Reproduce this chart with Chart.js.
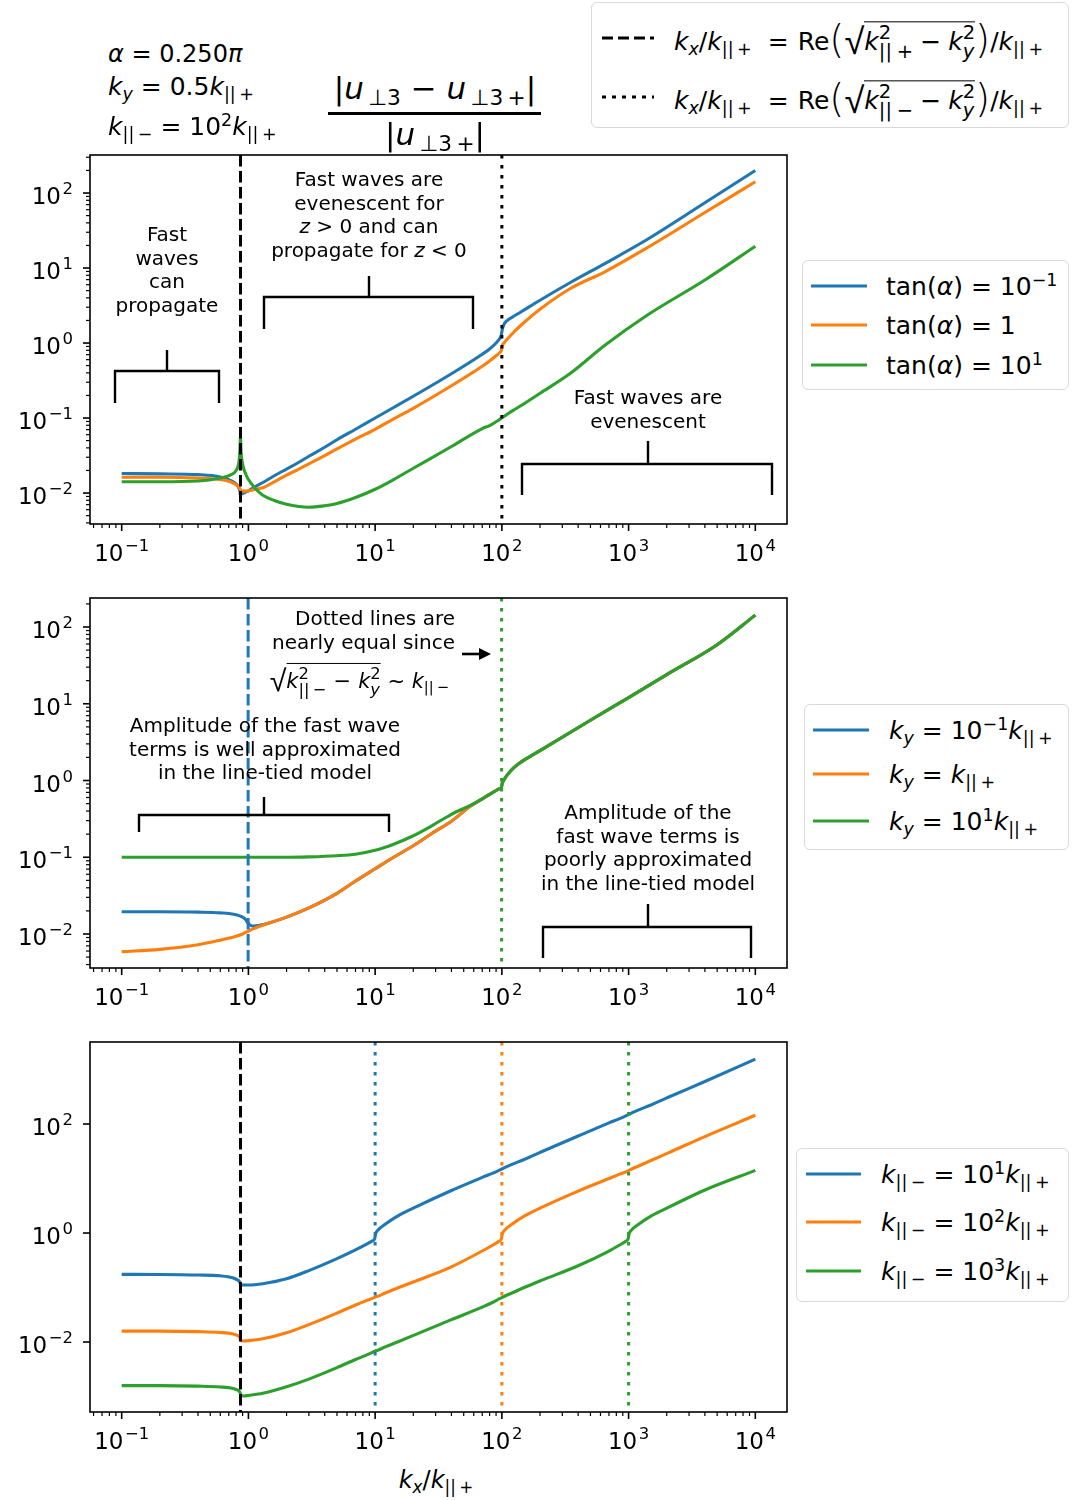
<!DOCTYPE html>
<html>
<head>
<meta charset="utf-8">
<script src="https://cdn.jsdelivr.net/npm/chart.js@4.4.0/dist/chart.umd.min.js"></script>
<style>
body { margin: 0; background: #fff; }
#page { position: relative; width: 1073px; height: 1500px; overflow: hidden; font-family: 'DejaVu Sans', sans-serif; color: #000; }
.cv { position: absolute; left: 0; }
.t { position: absolute; white-space: nowrap; line-height: 1; }
.c { transform: translate(-50%, -50%); text-align: center; }
.l { transform: translateY(-50%); }
.r { transform: translate(-100%, -50%); text-align: right; }
i { font-style: italic; }
.sb { font-size: 0.7em; position: relative; top: 0.28em; }
.sp { font-size: 0.7em; position: relative; top: -0.5em; }
.ss { display: inline-block; font-size: 0.78em; vertical-align: -0.4em; line-height: 0.95; text-align: left; }
.ss span { display: block; }
.bp { font-size: 1.55em; position: relative; top: 0.08em; font-weight: 200; }
.rad { font-size: 1.45em; position: relative; top: 0.1em; font-weight: 200; }
.ov { border-top: 1.5px solid #000; padding-top: 5px; }
.op { margin: 0 7px; }
.eq { margin: 0 9px 0 16px; }
.leg { position: absolute; border: 1.5px solid #d9d9d9; border-radius: 6px; background: #fff; box-sizing: border-box; }
.row { position: absolute; white-space: nowrap; transform: translateY(-50%); line-height: 1; }
.smp { position: absolute; height: 3px; transform: translateY(-50%); }
.ann { font-size: 20px; line-height: 23.5px; }
</style>
</head>
<body>
<div id="page">
  <div class="cv" style="top:140px"><canvas id="c1" width="800" height="430"></canvas></div>
  <div class="cv" style="top:585px"><canvas id="c2" width="800" height="430"></canvas></div>
  <div class="cv" style="top:1030px"><canvas id="c3" width="800" height="430"></canvas></div>

  <!-- header -->
  <div class="t l" style="left:108px;top:54px;font-size:24px"><i>α</i> = 0.250<i>π</i></div>
  <div class="t l" style="left:108px;top:86px;font-size:25px"><i>k</i><span class="sb"><i>y</i></span> = 0.5<i>k</i><span class="sb">||&#8201;+</span></div>
  <div class="t l" style="left:108px;top:126px;font-size:25px"><i>k</i><span class="sb">||&#8201;−</span> = 10<span class="sp">2</span><i>k</i><span class="sb">||&#8201;+</span></div>
  <div class="t c" style="left:435px;top:88px;font-size:31px">|<i>u</i><span class="sb">&#8201;⊥3</span> − <i>u</i><span class="sb">&#8201;⊥3&#8201;+</span>|</div>
  <div style="position:absolute;left:328px;top:112px;width:213px;height:2.5px;background:#000"></div>
  <div class="t c" style="left:435px;top:134px;font-size:31px">|<i>u</i><span class="sb">&#8201;⊥3&#8201;+</span>|</div>

  <div class="leg" style="left:591px;top:2px;width:478px;height:126px">
    <div class="smp" style="left:10px;top:35px;width:52px;background:repeating-linear-gradient(to right,#000 0 11.5px,transparent 11.5px 16px)"></div>
    <div class="row" style="left:82px;top:37px;font-size:25px"><i>k</i><span class="sb"><i>x</i></span>/<i>k</i><span class="sb">||&#8201;+</span><span class="eq">=</span>Re<span class="bp">(</span><span class="rad">√</span><span class="ov"><i>k</i><span class="ss"><span>2</span><span>||&#8197;+</span></span><span class="op">−</span><i>k</i><span class="ss"><span>2</span><span><i>y</i></span></span></span><span class="bp">)</span>/<i>k</i><span class="sb">||&#8201;+</span></div>
    <div class="smp" style="left:10px;top:94px;width:52px;background:repeating-linear-gradient(to right,#000 0 3.5px,transparent 3.5px 10px)"></div>
    <div class="row" style="left:82px;top:96px;font-size:25px"><i>k</i><span class="sb"><i>x</i></span>/<i>k</i><span class="sb">||&#8201;+</span><span class="eq">=</span>Re<span class="bp">(</span><span class="rad">√</span><span class="ov"><i>k</i><span class="ss"><span>2</span><span>||&#8197;−</span></span><span class="op">−</span><i>k</i><span class="ss"><span>2</span><span><i>y</i></span></span></span><span class="bp">)</span>/<i>k</i><span class="sb">||&#8201;+</span></div>
  </div>

  <!-- legends -->
  <div class="leg" style="left:802px;top:260px;width:267px;height:130px">
    <div class="smp" style="left:8px;top:25px;width:56px;background:#1f77b4"></div>
    <div class="row" style="left:83px;top:25px;font-size:25px">tan(<i>α</i>) = 10<span class="sp">−1</span></div>
    <div class="smp" style="left:8px;top:64px;width:56px;background:#ff7f0e"></div>
    <div class="row" style="left:83px;top:64px;font-size:25px">tan(<i>α</i>) = 1</div>
    <div class="smp" style="left:8px;top:104px;width:56px;background:#2ca02c"></div>
    <div class="row" style="left:83px;top:104px;font-size:25px">tan(<i>α</i>) = 10<span class="sp">1</span></div>
  </div>
  <div class="leg" style="left:804px;top:704px;width:265px;height:146px">
    <div class="smp" style="left:8px;top:25px;width:56px;background:#1f77b4"></div>
    <div class="row" style="left:84px;top:25px;font-size:25px"><i>k</i><span class="sb"><i>y</i></span> = 10<span class="sp">−1</span><i>k</i><span class="sb">||&#8201;+</span></div>
    <div class="smp" style="left:8px;top:69px;width:56px;background:#ff7f0e"></div>
    <div class="row" style="left:84px;top:69px;font-size:25px"><i>k</i><span class="sb"><i>y</i></span> = <i>k</i><span class="sb">||&#8201;+</span></div>
    <div class="smp" style="left:8px;top:116px;width:56px;background:#2ca02c"></div>
    <div class="row" style="left:84px;top:116px;font-size:25px"><i>k</i><span class="sb"><i>y</i></span> = 10<span class="sp">1</span><i>k</i><span class="sb">||&#8201;+</span></div>
  </div>
  <div class="leg" style="left:796px;top:1148px;width:273px;height:154px">
    <div class="smp" style="left:9px;top:25px;width:55px;background:#1f77b4"></div>
    <div class="row" style="left:84px;top:25px;font-size:25px"><i>k</i><span class="sb">||&#8201;−</span> = 10<span class="sp">1</span><i>k</i><span class="sb">||&#8201;+</span></div>
    <div class="smp" style="left:9px;top:73px;width:55px;background:#ff7f0e"></div>
    <div class="row" style="left:84px;top:73px;font-size:25px"><i>k</i><span class="sb">||&#8201;−</span> = 10<span class="sp">2</span><i>k</i><span class="sb">||&#8201;+</span></div>
    <div class="smp" style="left:9px;top:122px;width:55px;background:#2ca02c"></div>
    <div class="row" style="left:84px;top:122px;font-size:25px"><i>k</i><span class="sb">||&#8201;−</span> = 10<span class="sp">3</span><i>k</i><span class="sb">||&#8201;+</span></div>
  </div>

  <!-- annotations -->
  <div class="t c ann" style="left:167px;top:270px">Fast<br>waves<br>can<br>propagate</div>
  <div class="t c ann" style="left:369px;top:215px">Fast waves are<br>evenescent for<br><i>z</i> &gt; 0 and can<br>propagate for <i>z</i> &lt; 0</div>
  <div class="t c ann" style="left:648px;top:409px">Fast waves are<br>evenescent</div>
  <div class="t r ann" style="left:455px;top:630px">Dotted lines are<br>nearly equal since</div>
  <div class="t r" style="left:449px;top:680px;font-size:21px"><span class="rad">√</span><span class="ov"><i>k</i><span class="ss"><span>2</span><span>||&#8201;−</span></span><span class="op">−</span><i>k</i><span class="ss"><span>2</span><span><i>y</i></span></span></span> ~ <i>k</i><span class="sb">||&#8201;−</span></div>
  <div class="t c ann" style="left:265px;top:749px">Amplitude of the fast wave<br>terms is well approximated<br>in the line-tied model</div>
  <div class="t c ann" style="left:648px;top:848px">Amplitude of the<br>fast wave terms is<br>poorly approximated<br>in the line-tied model</div>

  <div class="t c" style="left:436px;top:1480px;font-size:24px"><i>k</i><span class="sb"><i>x</i></span>/<i>k</i><span class="sb">||&#8201;+</span></div>
</div>

<script>
// values as log10 of |u⊥3 − u⊥3+| / |u⊥3+|

// top panel: tan(alpha) = 0.1, 1, 10
const kx1 = [0.1, 0.2, 0.4, 0.6, 0.72, 0.8, 0.84, 0.855, 0.866, 0.875, 0.89, 0.92, 0.96, 1.0, 1.15, 1.3, 1.6, 2, 2.5, 3, 4, 5, 7, 10, 14, 20, 40, 70, 80, 90, 96, 99, 101, 104, 110, 125, 140, 200, 350, 650, 1400, 4000, 10000];
const p1Blue = [-1.74, -1.745, -1.755, -1.785, -1.83, -1.88, -1.93, -1.97, -2.03, -2.02, -2.01, -2.0, -1.985, -1.97, -1.91, -1.86, -1.77, -1.68, -1.59, -1.51, -1.39, -1.29, -1.15, -1.0, -0.86, -0.71, -0.41, -0.15, -0.08, 0.0, 0.06, 0.11, 0.19, 0.25, 0.3, 0.36, 0.41, 0.57, 0.81, 1.06, 1.38, 1.87, 2.3];
const p1Orange = [-1.79, -1.79, -1.8, -1.82, -1.85, -1.89, -1.92, -1.94, -1.96, -1.97, -1.975, -1.975, -1.975, -1.97, -1.95, -1.93, -1.85, -1.76, -1.68, -1.61, -1.5, -1.41, -1.28, -1.15, -1.01, -0.87, -0.57, -0.31, -0.24, -0.17, -0.13, -0.1, -0.03, 0.0, 0.05, 0.15, 0.23, 0.45, 0.73, 0.95, 1.27, 1.74, 2.15];
const p1Green = [-1.85, -1.85, -1.84, -1.8, -1.76, -1.7, -1.6, -1.47, -1.25, -1.45, -1.57, -1.68, -1.76, -1.82, -1.95, -2.03, -2.1, -2.15, -2.18, -2.19, -2.17, -2.14, -2.06, -1.95, -1.82, -1.67, -1.38, -1.14, -1.1, -1.05, -1.02, -1.0, -0.99, -0.98, -0.95, -0.89, -0.84, -0.67, -0.4, -0.03, 0.37, 0.84, 1.29];
const p1Lines = [0.866, 100];

// middle panel: ky = 0.1, 1, 10 k||+
const kx2 = [0.1, 0.2, 0.4, 0.6, 0.8, 0.9, 0.95, 0.995, 1.05, 1.1, 1.2, 1.5, 2, 3, 5, 7, 10, 14, 20, 28, 40, 57, 70, 80, 90, 96, 99, 101, 104, 110, 125, 140, 200, 500, 1000, 2000, 5000, 10000];
const p2Blue = [-1.71, -1.71, -1.715, -1.725, -1.75, -1.78, -1.81, -1.86, -1.89, -1.895, -1.89, -1.85, -1.78, -1.66, -1.47, -1.31, -1.15, -1.0, -0.85, -0.69, -0.53, -0.33, -0.24, -0.18, -0.13, -0.105, -0.09, -0.03, 0.01, 0.07, 0.17, 0.235, 0.39, 0.785, 1.08, 1.38, 1.77, 2.155];
const p2Orange = [-2.23, -2.2, -2.14, -2.08, -2.03, -2.0, -1.98, -1.965, -1.945, -1.93, -1.905, -1.85, -1.78, -1.66, -1.47, -1.31, -1.15, -1.0, -0.85, -0.69, -0.53, -0.33, -0.24, -0.18, -0.13, -0.105, -0.09, -0.03, 0.01, 0.07, 0.17, 0.235, 0.39, 0.785, 1.08, 1.38, 1.77, 2.155];
const p2Green = [-1.0, -1.0, -1.0, -1.0, -1.0, -1.0, -1.0, -1.0, -1.0, -1.0, -1.0, -1.0, -1.0, -0.995, -0.98, -0.96, -0.91, -0.83, -0.72, -0.59, -0.44, -0.32, -0.24, -0.18, -0.13, -0.105, -0.09, -0.03, 0.01, 0.07, 0.17, 0.235, 0.39, 0.785, 1.08, 1.38, 1.77, 2.155];
const p2Lines = [0.995, 99.5];

// bottom panel: k||- = 10, 100, 1000 k||+
const kx3 = [0.1, 0.2, 0.4, 0.6, 0.75, 0.82, 0.85, 0.866, 0.88, 0.92, 1.0, 1.3, 2, 3, 5, 7, 8.5, 9.5, 9.9, 10.1, 10.5, 12, 15, 21, 40, 70, 85, 95, 99, 101, 105, 120, 150, 210, 400, 700, 850, 950, 990, 1010, 1050, 1200, 1500, 2100, 4000, 10000];
const p3Blue = [-0.758, -0.76, -0.77, -0.785, -0.82, -0.86, -0.89, -0.93, -0.95, -0.955, -0.955, -0.93, -0.84, -0.69, -0.47, -0.31, -0.21, -0.145, -0.11, -0.01, 0.05, 0.16, 0.31, 0.48, 0.78, 1.02, 1.1, 1.15, 1.17, 1.18, 1.2, 1.26, 1.35, 1.5, 1.78, 2.02, 2.1, 2.15, 2.17, 2.18, 2.2, 2.26, 2.35, 2.5, 2.78, 3.19];
const p3Orange = [-1.8, -1.8, -1.81, -1.825, -1.85, -1.88, -1.91, -1.95, -1.975, -1.98, -1.975, -1.94, -1.83, -1.68, -1.47, -1.32, -1.24, -1.2, -1.18, -1.17, -1.16, -1.1, -1.01, -0.88, -0.62, -0.33, -0.22, -0.15, -0.11, -0.01, 0.05, 0.16, 0.31, 0.48, 0.77, 1.0, 1.08, 1.12, 1.14, 1.15, 1.17, 1.23, 1.33, 1.48, 1.77, 2.16];
const p3Green = [-2.8, -2.8, -2.81, -2.825, -2.85, -2.88, -2.91, -2.95, -2.98, -2.99, -2.98, -2.94, -2.82, -2.68, -2.47, -2.32, -2.24, -2.19, -2.17, -2.16, -2.15, -2.09, -2.0, -1.86, -1.59, -1.36, -1.27, -1.21, -1.19, -1.18, -1.16, -1.1, -1.0, -0.86, -0.6, -0.33, -0.22, -0.15, -0.11, -0.01, 0.05, 0.16, 0.31, 0.48, 0.79, 1.15];
const p3Lines = [0.866, 10, 100, 1000];

const xTicks = [0.1, 1, 10, 100, 1000, 10000];
const yTicks12 = [0.01, 0.1, 1, 10, 100];
const yTicks3 = [0.01, 1, 100];

const BLUE = '#1f77b4', ORANGE = '#ff7f0e', GREEN = '#2ca02c', BLACK = '#000';
const DASH = [11.5, 4.5], DOT = [3.5, 6.5];

const pts = (xs, ys) => xs.map((x, i) => ({ x: x, y: Math.pow(10, ys[i]) }));

function drawPow(ctx, v, x, y, align) {
  const e = String(Math.round(Math.log10(v))).replace('-', '−');
  ctx.font = '23px "DejaVu Sans"';
  const w1 = ctx.measureText('10').width + 1.5;
  ctx.font = '16.5px "DejaVu Sans"';
  const w2 = ctx.measureText(e).width;
  const x0 = align === 'right' ? x - w1 - w2 : x - (w1 + w2) / 2;
  ctx.textAlign = 'left';
  ctx.textBaseline = 'alphabetic';
  ctx.font = '23px "DejaVu Sans"';
  ctx.fillText('10', x0, y);
  ctx.font = '16.5px "DejaVu Sans"';
  ctx.fillText(e, x0 + w1, y - 10);
}

const decor = {
  id: 'decor',
  afterDatasetsDraw(chart, args, o) {
    const ctx = chart.ctx, a = chart.chartArea, sx = chart.scales.x, sy = chart.scales.y;
    ctx.save();
    o.vlines.forEach(v => {
      const px = sx.getPixelForValue(v.x);
      ctx.beginPath();
      ctx.setLineDash(v.dash);
      ctx.lineWidth = 3;
      ctx.strokeStyle = v.color;
      ctx.moveTo(px, a.top);
      ctx.lineTo(px, a.bottom);
      ctx.stroke();
    });
    ctx.setLineDash([]);
    ctx.strokeStyle = '#000';
    ctx.fillStyle = '#000';
    ctx.lineWidth = 2.4;
    (o.brackets || []).forEach(b => {
      ctx.beginPath();
      ctx.moveTo(a.left + b.x1, a.top + b.leg);
      ctx.lineTo(a.left + b.x1, a.top + b.y);
      ctx.lineTo(a.left + b.x2, a.top + b.y);
      ctx.lineTo(a.left + b.x2, a.top + b.leg);
      ctx.moveTo(a.left + b.cx, a.top + b.y);
      ctx.lineTo(a.left + b.cx, a.top + b.tick);
      ctx.stroke();
    });
    (o.arrows || []).forEach(r => {
      const y = a.top + r.y, x1 = a.left + r.x1, x2 = a.left + r.x2;
      ctx.lineWidth = 2.6;
      ctx.beginPath();
      ctx.moveTo(x1, y);
      ctx.lineTo(x2 - 8, y);
      ctx.stroke();
      ctx.beginPath();
      ctx.moveTo(x2, y);
      ctx.lineTo(x2 - 12, y - 6);
      ctx.lineTo(x2 - 12, y + 6);
      ctx.closePath();
      ctx.fill();
    });
    // frame
    ctx.lineWidth = 1.6;
    ctx.strokeRect(a.left, a.top, a.right - a.left, a.bottom - a.top);
    // ticks
    const tick = (x1, y1, x2, y2, w) => {
      ctx.lineWidth = w;
      ctx.beginPath();
      ctx.moveTo(x1, y1);
      ctx.lineTo(x2, y2);
      ctx.stroke();
    };
    for (let d = -2; d <= 4; d++) {
      for (let m = 1; m <= 9; m++) {
        const v = m * Math.pow(10, d);
        if (v < sx.min || v > sx.max) continue;
        const px = sx.getPixelForValue(v);
        if (m === 1) tick(px, a.bottom, px, a.bottom + 7, 1.6);
        else tick(px, a.bottom, px, a.bottom + 4, 1.2);
      }
    }
    xTicks.forEach(v => drawPow(ctx, v, sx.getPixelForValue(v), a.bottom + 37, 'center'));
    if (o.yMinor) {
      for (let d = -4; d <= 3; d++) {
        for (let m = 2; m <= 9; m++) {
          const v = m * Math.pow(10, d);
          if (v < sy.min || v > sy.max) continue;
          const py = sy.getPixelForValue(v);
          tick(a.left, py, a.left - 4, py, 1.2);
        }
      }
    }
    o.yTicks.forEach(v => {
      const py = sy.getPixelForValue(v);
      tick(a.left, py, a.left - 7, py, 1.6);
      drawPow(ctx, v, a.left - 17, py + 11, 'right');
    });
    ctx.restore();
  }
};

function makePanel(id, xs, series, yMin, yMax, pad, deco) {
  const colors = [BLUE, ORANGE, GREEN];
  new Chart(document.getElementById(id), {
    type: 'line',
    data: {
      datasets: series.map((ys, i) => ({
        data: pts(xs, ys),
        borderColor: colors[i],
        borderWidth: 3.1,
        borderJoinStyle: 'round',
        pointRadius: 0,
        fill: false,
        order: 2 - i,
        cubicInterpolationMode: 'monotone'
      }))
    },
    options: {
      responsive: false,
      animation: false,
      layout: { padding: pad },
      plugins: { legend: { display: false }, tooltip: { enabled: false }, decor: deco },
      scales: {
        x: { type: 'logarithmic', min: Math.pow(10, -1.25), max: Math.pow(10, 4.25), display: false },
        y: { type: 'logarithmic', min: yMin, max: yMax, display: false }
      }
    },
    plugins: [decor]
  });
}

makePanel('c1', kx1, [p1Blue, p1Orange, p1Green], Math.pow(10, -2.413), Math.pow(10, 2.507),
  { left: 90, top: 15, right: 13, bottom: 46 },
  {
    vlines: [{ x: p1Lines[0], color: BLACK, dash: DASH }, { x: p1Lines[1], color: BLACK, dash: DOT }],
    brackets: [
      { x1: 25, x2: 129, y: 216, leg: 248, tick: 195, cx: 77 },
      { x1: 174, x2: 383, y: 142, leg: 174, tick: 121, cx: 279 },
      { x1: 432, x2: 682, y: 309, leg: 340, tick: 286, cx: 558 }
    ],
    yTicks: yTicks12, yMinor: true
  });

makePanel('c2', kx2, [p2Blue, p2Orange, p2Green], Math.pow(10, -2.443), Math.pow(10, 2.378),
  { left: 90, top: 13, right: 13, bottom: 47 },
  {
    vlines: [{ x: p2Lines[0], color: BLUE, dash: DASH }, { x: p2Lines[1], color: GREEN, dash: DOT }],
    brackets: [
      { x1: 49, x2: 299, y: 217, leg: 234, tick: 199, cx: 174 },
      { x1: 453, x2: 661, y: 329, leg: 360, tick: 306, cx: 558 }
    ],
    arrows: [{ x1: 372, x2: 401, y: 56 }],
    yTicks: yTicks12, yMinor: true
  });

makePanel('c3', kx3, [p3Blue, p3Orange, p3Green], Math.pow(10, -3.284), Math.pow(10, 3.505),
  { left: 90, top: 12, right: 13, bottom: 48 },
  {
    vlines: [
      { x: p3Lines[0], color: BLACK, dash: DASH },
      { x: p3Lines[1], color: BLUE, dash: DOT },
      { x: p3Lines[2], color: ORANGE, dash: DOT },
      { x: p3Lines[3], color: GREEN, dash: DOT }
    ],
    yTicks: yTicks3, yMinor: false
  });
</script>
</body>
</html>
